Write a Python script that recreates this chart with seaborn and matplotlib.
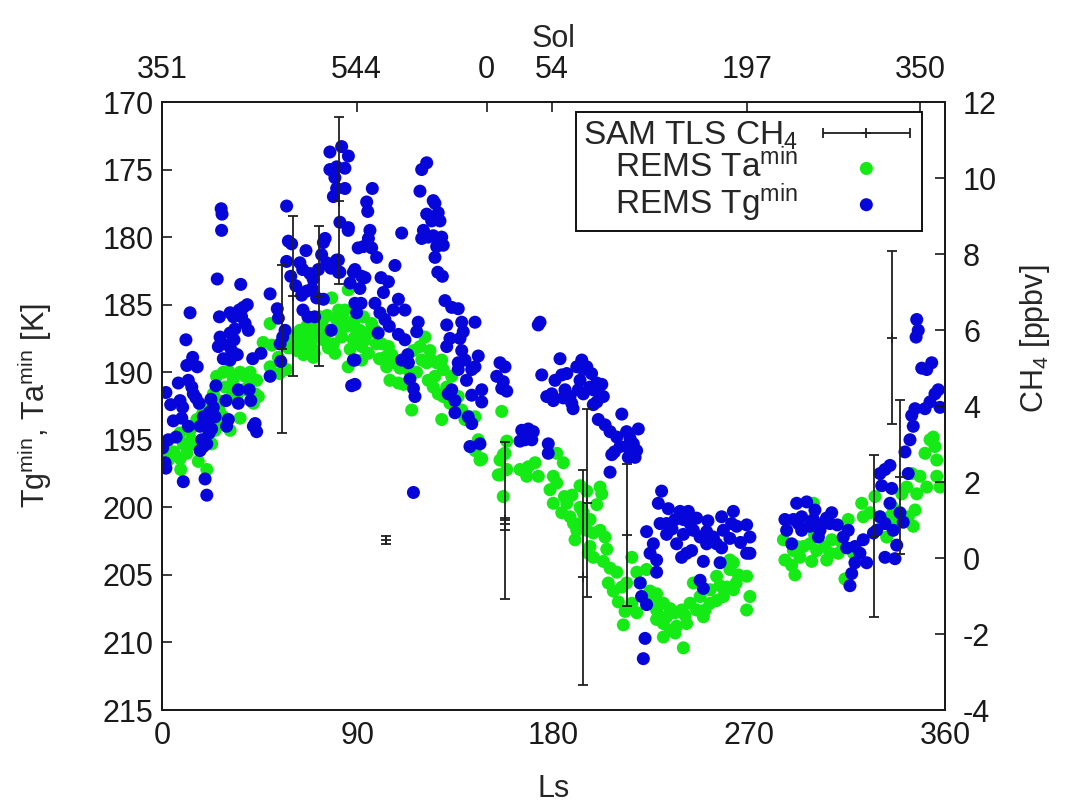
import numpy as np
import matplotlib
matplotlib.use("Agg")
import matplotlib.pyplot as plt
import seaborn as sns
import pandas as pd
from matplotlib.container import ErrorbarContainer
from matplotlib.legend_handler import HandlerErrorbar

# ---------------- data ----------------
# REMS Tg_min (ground temperature minimum), blue
tg_ls = [27.2, 27.6, 27.4, 25.4, 36.2, 12.9, 26.4,
         31.3, 32.8, 35.5, 37.4, 39.2, 36.6, 38.2, 39.7,
         11, 26.7, 31.3, 33.1, 30.5, 32, 34.6, 25.9,
         28.2, 31.3, 41.7, 14.1, 11.4, 16.2,
         7.5, 12.1, 13.7, 14.4, 1.8, 8.3, 9.5, 15.6, 17.1,
         24.8, 35.1, 40.1, 29.4, 35.1, 40.8,
         23.6, 21.7, 19, 17.5, 20.6, 22.8, 24.4, 21.7, 18.3, 19, 17.5, 20.6,
         9.1, 12.1, 30.5, 29.7, 42.8, 43.5, 42,
         2.9, 0.3, 1.4, 1.8, 9.8, 19.8, 20.6,
         49.7, 53, 53.5, 57.3, 58.1, 59.6, 59.2, 56.6, 55.5, 54.3, 54.6, 49.7, 57.3,
         66.2, 63.4, 64.7, 66.5, 64.2, 68, 69.5, 71.9, 74.2, 75, 73.4, 75.7, 77.6,
         80.3, 81.8, 85.6, 88, 90.2, 71.1, 74.2, 64.8, 67.1, 70.2, 77.8, 88, 87.2,
         77.2, 82.6, 85.7, 77.2, 80.3, 84.1, 79.5, 80.3, 84.1, 78.8, 81.8, 85.7, 81.1, 81.1,
         96.7, 94.1, 94.6, 95.6, 94.9, 92.6, 96.4, 98.7, 88.7, 91.8, 93.3, 91, 91.5, 88.7,
         110.2, 107.1, 100.7, 104.1, 101.8, 108.7, 111.7, 97.9, 100.2, 102.5, 106.3,
         99.4, 108.7, 111.7, 110.2, 113.3, 114, 115.6, 116.3,
         121.7, 119.4, 118.6, 124.7, 125.5, 121.7, 124, 127, 127.8, 120.2, 119.4,
         122.4, 124.7, 128.6, 129.3, 126.3, 125.5, 126.8, 128.9, 130.1, 133.2, 136.2,
         117.8, 117.1, 130.9, 137.8, 143.9, 132.4, 137, 130.9, 137.8, 139.3, 136.2,
         145.4, 143.9, 142.4, 136.2,
         133.2, 134.7, 134.7, 131.6, 142.4, 147, 147, 140.8, 142.4, 141.6, 146.2,
         155.4, 157.7, 153.9, 156.9, 158.5, 156.2,
         173.8, 173, 174.6, 176.9, 179.2,
         165.4, 168.4, 170.7, 166.9, 170, 164.6, 177.6, 177.6,
         88.7, 88.7, 115.6,
         183, 180.7, 179.9, 183.8, 186.1, 185.3, 187.6, 188.4, 190.7, 193, 193.7,
         195.3, 192.2, 191.4, 193.7, 196.8, 198.3, 199.9, 202.2, 201.4, 202.9, 198.3, 199.9,
         200.6, 203.7, 206, 211.4, 209.1, 213.6, 215.2, 219, 210.6, 213.6, 216.7,
         218.2, 214.4, 206.8, 206, 217.5,
         229.7, 228.2, 232.8, 238.2, 242, 245.8, 229, 232, 235.9, 239.7, 242.8, 232,
         236.6, 239.7, 244.3, 247.4, 222.8, 225.9, 224.4, 227.4, 227.4, 238.9, 241.2,
         243.5, 250.4, 253.5, 257.3, 262.7, 261.9, 258.1, 264.2, 268.8, 270.3, 255,
         257.3, 261.1, 250.4, 256.6, 248.9, 268.8, 270.3, 247.4, 248.9, 219.8, 220.5,
         222.8, 222.1, 221.3,
         286.4, 287.2, 289.5, 291.8, 296.4, 290.3, 294.1, 294.1, 297.9, 300.2, 301.8,
         299.5, 304.1, 307.9, 307.1, 302.5, 313.2, 315.5, 314.8, 318.6, 320.9, 322.4,
         318.6, 317.1, 316.3, 324, 327.1, 328.6, 332.4, 330.1, 334.7, 330.9, 330.1,
         332.4, 334.7, 335.5, 336.2, 337.8, 332.4, 337, 339.3, 340.8, 341.6, 343.9,
         345.4, 344.7, 346.2, 350.8, 353.1, 355.4, 356.9, 357.7, 349.3, 351.6, 353.9,
         347, 347.7, 346.7, 343.1,
         5.2, 4.0, 6.5, 22.5, 33.5, 45.5, 61.5, 69.0, 86.5, 89.5, 104.5, 113.0,
         138.5, 140.0, 184.5, 189.0, 197.5, 208.0, 234.5, 251.0, 266.0, 292.5, 305.5, 310.5]
tg_min = [177.9, 178.3, 179.5, 183.1, 183.5, 185.6, 185.9,
          185.6, 185.9, 185.4, 185.2, 185.0, 185.9, 186.4, 186.9,
          187.6, 187.4, 187.1, 187.6, 188.0, 188.4, 188.7, 188.1,
          189.0, 189.1, 189.0, 188.9, 189.5, 189.6,
          190.8, 190.6, 191.1, 191.6, 191.5, 192.1, 192.6, 191.9, 192.3,
          191.0, 191.3, 191.3, 192.1, 192.3, 192.1,
          192.6, 193.0, 193.3, 194.0, 193.8, 194.2, 193.3, 194.5, 195.0, 195.5, 195.8, 195.3,
          193.4, 194.0, 193.5, 194.0, 193.8, 194.4, 194.0,
          195.0, 195.6, 196.7, 197.1, 198.1, 197.9, 199.1,
          184.2, 185.3, 186.0, 181.8, 180.3, 180.5, 182.9, 186.9, 187.4, 187.9, 189.2, 190.3, 177.7,
          181.0, 181.9, 182.4, 184.0, 184.3, 182.7, 183.1, 182.4, 180.4, 180.1, 181.3, 181.9, 182.3,
          181.7, 182.6, 179.5, 182.6, 180.8, 184.5, 184.6, 185.4, 185.9, 185.9, 186.9, 189.1, 191.0,
          173.7, 173.3, 174.0, 175.0, 174.8, 174.9, 175.6, 176.4, 176.4, 177.0, 178.9, 179.3, 181.7, 182.6,
          176.4, 177.4, 178.1, 179.5, 180.1, 180.7, 180.8, 181.5, 182.4, 182.9, 183.0, 183.8, 184.9, 184.9,
          179.7, 182.1, 183.0, 183.3, 184.1, 184.6, 185.4, 184.9, 185.6, 186.1, 185.4,
          187.1, 187.2, 187.6, 189.1, 189.3, 190.5, 191.2, 191.8,
          174.5, 175.0, 176.6, 177.3, 177.5, 178.3, 178.8, 178.2, 178.8, 179.5, 180.1,
          180.0, 179.9, 180.0, 180.6, 180.7, 181.5, 182.6, 182.9, 184.7, 185.2, 185.3,
          186.3, 187.0, 186.5, 186.3, 186.3, 187.5, 187.5, 188.1, 188.4, 189.1, 189.3,
          188.8, 189.6, 189.8, 189.8,
          191.3, 192.1, 193.0, 191.6, 191.7, 191.3, 192.2, 193.3, 193.8, 195.5, 195.3,
          189.3, 189.6, 190.3, 190.7, 191.4, 191.2,
          186.3, 186.5, 190.2, 191.8, 191.6,
          194.3, 194.2, 194.4, 195.0, 195.0, 195.1, 195.3, 196.0,
          189.1, 190.9, 198.9,
          189.0, 190.6, 192.1, 190.2, 190.1, 191.3, 191.8, 192.3, 189.6, 189.1, 189.8,
          189.6, 190.6, 191.3, 191.6, 191.1, 191.3, 190.8, 190.9, 191.8, 191.8, 192.4, 192.2,
          193.5, 193.9, 194.4, 193.1, 194.8, 194.4, 194.9, 194.2, 195.5, 195.5, 195.3,
          195.8, 196.3, 196.1, 197.4, 196.3,
          198.8, 199.7, 200.1, 200.3, 200.3, 200.8, 201.2, 201.2, 200.9, 200.9, 201.2, 202.0,
          202.7, 202.0, 201.7, 202.2, 201.8, 202.7, 203.4, 203.9, 204.8, 203.7, 203.4,
          203.2, 201.8, 202.2, 200.7, 200.3, 201.2, 201.7, 201.4, 201.3, 202.2, 202.7,
          203.0, 202.3, 202.7, 204.1, 204.0, 203.4, 203.4, 205.4, 206.0, 205.6, 206.6,
          207.2, 209.7, 211.2,
          200.9, 201.7, 202.7, 199.7, 199.6, 200.9, 200.7, 201.7, 201.4, 200.2, 202.2,
          200.9, 201.2, 200.4, 201.2, 201.7, 202.2, 201.7, 203.0, 202.9, 203.4, 202.4,
          204.1, 204.9, 205.8, 204.1, 201.9, 201.7, 201.2, 200.7, 199.7, 198.4, 197.5,
          197.2, 196.9, 198.6, 201.7, 202.8, 203.7, 203.8, 200.4, 201.1, 195.9, 195.0,
          194.0, 193.2, 192.7, 192.7, 192.2, 191.6, 191.3, 192.6, 189.7, 189.8, 189.3,
          186.1, 186.9, 187.4, 197.5,
          193.6, 192.4, 194.8, 192.0, 186.8, 188.6, 183.6, 183.8, 183.4, 185.6, 186.6, 188.7,
          187.0, 190.6, 191.9, 192.7, 190.1, 195.9, 201.6, 201.0, 202.6, 201.2, 200.8, 201.3]

# REMS Ta_min (air temperature minimum), green
ta_ls = [8.3, 12.9, 16, 18.3, 19, 14.4, 9.8, 11.4, 8.3, 16.7, 20.6, 8.6, 2.9, 0.6, 2.9, 22.8, 24.4, 25.9,
         25.1, 28.2, 30.5, 32.8, 35.9, 38.2, 40.5, 43.5, 42.8, 42, 23.6, 25.9, 29, 32, 34.3, 37.4,
         39.7, 35.9, 31.3, 29.7, 26.3, 28.2, 44.3,
         49.7, 49.7, 53.5, 54, 58.1, 59.6, 57.3, 63.4, 65, 68, 65, 69.6, 71.1, 75.7, 78, 81.8,
         85.6, 84.1, 88, 85.6, 91, 75.9, 81.2,
         60.4, 66.5, 71.1, 74.2, 78.8, 82.6, 84.9, 89.5, 72.6, 80.3, 68.8, 76.5, 88, 63.4,
         88.7, 92.6, 96.4, 91, 94.9, 88.7, 93.3, 97.9, 91.8, 94.9, 91.8, 101, 104.1, 102.5,
         105.6, 103.3, 107.1, 109.4, 104.8, 108.7, 113.2, 115.6, 118.6, 120.9, 123.2, 119.4,
         121.7, 124, 126.3, 128.6, 129.3, 125.5, 122.4, 124.7, 127, 129.3, 130.9, 133.2,
         132.4, 134.7, 136.2, 137.8, 139.3, 141.6, 143.9, 114.8, 128.6,
         145.4, 147, 143.9, 146.2, 155.4, 158.5, 157.7, 154.6, 158.5, 164.6, 168.4, 171.5,
         173, 167.7, 156.2, 156.9, 155.4, 156.9,
         181.5, 184.5, 179.9, 181.5, 178.4, 179.9, 186.1, 183.8, 187.6, 189.2, 192.2, 195.3,
         201.4, 202.2, 199.9, 192.2, 193.7, 196.8, 190.7, 192.2, 189.9, 195.3, 198.3, 201.4,
         203.7, 196.8, 198.3, 196, 202.9, 206, 209.1, 205.2, 207.5, 211.4, 213.6, 216,
         218.3, 222.8, 209.8, 212.9, 212.1, 216, 218.3, 224.4, 227.4, 224.4, 227.4, 230.5,
         233.6, 235.9, 238.9, 227.4, 230.5, 233.6, 236.6, 230.5, 235.9, 239.7, 241.2, 242.8,
         245.8, 248.9, 244.3, 247.4, 252, 255, 258.1, 259.6, 262.7, 255, 261.1, 262.7, 265,
         268.8, 270.3, 268.8, 261.1, 252, 249.7,
         285.7, 286.4, 289.5, 291, 291.8, 294.9, 299.5, 297.9, 301, 304.8, 307.9, 307.1,
         305.6, 298.7, 310.9, 315.5, 314, 321.7, 322.4, 325.5, 327.8, 330.1, 331.6, 333.2,
         334.7, 337.8, 340.1, 342.4, 344.7, 347, 348.5, 346.2, 343.1, 345.4, 351.6, 350.8,
         353.1, 355.4, 356.2, 356.2, 357.7, 354.6, 290.3, 293.3,
         62.0, 67.5, 70.0, 73.5, 77.0, 79.5, 83.0, 86.5, 98.5, 100.0, 111.0, 117.0,
         5.5, 13.5, 21.5, 46.5, 50.5, 185.0, 188.5, 204.5, 220.0, 226.0, 232.0, 240.5,
         256.5, 264.0, 300.0, 312.5, 318.0, 336.0]
ta_min = [194.5, 194.3, 193.5, 193.2, 192.8, 195.3, 195.3, 196.0, 196.4, 196.6, 197.2, 197.2, 195.8, 196.0, 196.5, 195.3, 194.3, 193.5,
          190.3, 190.0, 189.9, 190.5, 190.0, 190.3, 190.0, 190.6, 191.6, 192.3, 191.6, 192.1, 191.1, 191.3, 191.8, 191.3,
          191.1, 193.4, 194.3, 193.8, 192.8, 193.3, 191.8,
          186.4, 189.6, 188.9, 190.1, 188.2, 187.6, 189.8, 186.9, 187.6, 187.1, 188.7, 188.9, 187.4, 187.1, 184.5, 186.9,
          183.9, 185.4, 186.4, 189.6, 187.4, 185.8, 185.4,
          187.4, 186.6, 186.6, 187.6, 187.9, 187.4, 186.6, 186.9, 185.9, 186.1, 188.1, 188.2, 187.6, 187.9,
          186.1, 185.9, 186.4, 186.9, 187.1, 187.4, 187.6, 186.9, 188.1, 188.6, 189.1, 187.9, 188.1, 188.9,
          188.7, 189.6, 189.3, 189.7, 190.6, 190.8, 189.8, 188.4, 188.1, 187.4, 188.4, 189.1,
          189.3, 189.1, 189.3, 189.1, 189.8, 190.3, 190.6, 191.1, 191.6, 191.8, 191.1, 190.3,
          192.3, 192.6, 191.8, 192.8, 193.5, 193.3, 193.3, 192.8, 193.5,
          195.0, 196.4, 195.8, 196.5, 196.5, 195.1, 196.0, 197.6, 197.2, 197.2, 197.0, 196.7,
          197.7, 197.7, 192.9, 196.1, 197.6, 199.2,
          196.0, 196.7, 197.7, 198.2, 198.7, 199.7, 199.7, 200.4, 200.7, 201.2, 198.4, 198.8,
          198.5, 199.0, 199.8, 200.0, 200.4, 200.9, 201.7, 201.2, 202.4, 201.7, 201.9, 201.7,
          202.2, 202.9, 203.7, 203.4, 204.0, 204.5, 204.8, 205.6, 206.2, 205.9, 205.6, 203.7,
          204.8, 204.6, 207.0, 207.7, 208.7, 207.1, 207.8, 206.2, 206.4, 207.1, 207.6, 207.1,
          207.5, 207.8, 207.6, 208.3, 208.6, 209.1, 208.8, 209.6, 209.3, 210.4, 208.6, 207.1,
          207.6, 208.1, 205.6, 206.6, 206.1, 206.9, 206.6, 205.9, 206.1, 205.1, 204.6, 204.1, 205.0,
          205.1, 206.6, 207.6, 203.9, 207.1, 207.6,
          202.4, 203.9, 204.3, 205.0, 202.9, 202.9, 199.7, 202.7, 203.2, 202.9, 202.4, 203.4,
          203.9, 204.0, 203.4, 200.9, 205.3, 199.7, 200.7, 200.4, 199.2, 200.7, 201.2, 202.2,
          200.7, 201.2, 199.0, 198.5, 197.5, 199.0, 197.7, 200.2, 200.7, 201.4, 198.5, 196.0,
          195.0, 195.5, 196.5, 197.7, 198.5, 194.8, 203.2, 203.7,
          188.4, 187.9, 188.6, 186.3, 186.9, 188.6, 185.9, 188.3, 187.9, 189.0, 190.9, 190.0,
          195.9, 195.0, 194.6, 187.8, 188.0, 199.2, 199.1, 203.1, 205.6, 207.0, 208.1, 208.0,
          205.8, 205.6, 202.0, 202.6, 203.4, 200.0]

# SAM TLS CH4 measurements [ppbv] with 1-sigma errors
ch4_ls = [55.3, 60.1, 72.0, 81.2, 102.8, 157.7, 157.9, 193.7, 195.3, 213.9, 327.4, 335.5, 339.3]
ch4_ppbv = [5.5, 6.9, 6.9, 9.4, 0.47, 0.99, 0.90, -0.51, 1.44, 0.60, 0.57, 5.80, 2.14]
ch4_err = [2.2, 2.1, 1.84, 2.2, 0.1, 2.07, 0.16, 2.83, 2.47, 1.87, 2.13, 2.27, 2.03]

# top axis: mission sols at given Ls
sol_tick_ls = [0, 89.5, 149.3, 179.2, 268.8, 348.5]
sol_labels = ["351", "544", "0", "54", "197", "350"]

ls_ticks = [0, 90, 180, 270, 360]
t_ticks = list(range(170, 216, 5))
ch4_ticks = list(range(-4, 13, 2))

# ---------------- style ----------------
sns.set_style("white")
plt.rcParams["font.family"] = ["Liberation Sans", "DejaVu Sans"]
plt.rcParams["mathtext.fontset"] = "custom"
plt.rcParams["mathtext.rm"] = "Liberation Sans"
plt.rcParams["mathtext.it"] = "Liberation Sans:italic"
plt.rcParams["mathtext.bf"] = "Liberation Sans:bold"
plt.rcParams["axes.unicode_minus"] = False

FS = 22
LFS = 24
GREEN = "#14ea14"
BLUE = "#0606da"
SPINE = "#1a1a1a"
DOT = 88

fig = plt.figure(figsize=(10.77, 8.07), dpi=100)
ax = fig.add_axes([162 / 1077, 1 - 710 / 807, (945 - 162) / 1077, (710 - 102) / 807])

df_ta = pd.DataFrame({"Ls": ta_ls, "T": ta_min})
df_tg = pd.DataFrame({"Ls": tg_ls, "T": tg_min})

sns.scatterplot(data=df_ta, x="Ls", y="T", ax=ax, color=GREEN, s=DOT,
                linewidth=0, edgecolor="none", label="REMS Ta$^{\\mathrm{min}}$", zorder=2)
sns.scatterplot(data=df_tg, x="Ls", y="T", ax=ax, color=BLUE, s=DOT,
                linewidth=0, edgecolor="none", label="REMS Tg$^{\\mathrm{min}}$", zorder=3)
if ax.get_legend() is not None:
    ax.get_legend().remove()

ax.set_xlim(0, 360)
ax.set_ylim(215, 170)
ax.set_xticks(ls_ticks)
ax.set_yticks(t_ticks)
ax.set_xlabel("Ls", fontsize=FS)
ax.set_ylabel("Tg$^{\\mathrm{min}}$, Ta$^{\\mathrm{min}}$ [K]", fontsize=FS)
ax.xaxis.set_label_coords(0.5, -0.105)
ax.yaxis.set_label_coords(-0.138, 0.5)
ax.tick_params(axis="both", which="major", direction="in", length=7, width=1.2,
               labelsize=FS, colors=SPINE, top=False, right=False)
ax.tick_params(axis="x", pad=8)
ax.tick_params(axis="y", pad=6)

# right axis: CH4
ax2 = ax.twinx()
ax2.set_ylim(-4, 12)
ax2.set_yticks(ch4_ticks)
ax2.errorbar(ch4_ls, ch4_ppbv, yerr=ch4_err, fmt="+", color="#202020",
             ecolor="#202020", elinewidth=1.3, capsize=3.5, capthick=1.3,
             markersize=7, markeredgewidth=1.3, zorder=5)
eb_proxy = ax2.errorbar([np.nan], [np.nan], xerr=[1.0], fmt="+", color="#202020",
                        ecolor="#202020", elinewidth=1.3, capsize=3.5, capthick=1.3,
                        markersize=7, markeredgewidth=1.3)
ax2.set_ylabel("CH$_4$ [ppbv]", fontsize=FS)
ax2.yaxis.set_label_coords(1.093, 0.61)
ax2.tick_params(axis="y", direction="in", length=7, width=1.2, labelsize=FS,
                colors=SPINE, pad=13)

# top axis: Sol
sec = ax.secondary_xaxis("top")
sec.set_xticks(sol_tick_ls, labels=sol_labels)
sec.tick_params(direction="in", length=7, width=1.2, labelsize=FS, colors=SPINE, pad=12)
sec.set_xlabel("Sol", fontsize=FS, labelpad=6)

for a in (ax, ax2):
    for sp in a.spines.values():
        sp.set_color(SPINE)
        sp.set_linewidth(1.4)
for sp in sec.spines.values():
    sp.set_color(SPINE)
    sp.set_linewidth(1.4)

# legend
h, l = ax.get_legend_handles_labels()
handles = [eb_proxy] + h
labels = ["SAM TLS CH$_4$"] + l
leg = ax2.legend(handles, labels, loc="upper right",
                 bbox_to_anchor=(922 / 1077, 1 - 112 / 807), bbox_transform=fig.transFigure,
                 borderaxespad=0, markerfirst=False, frameon=True, fancybox=False,
                 edgecolor="#111111", framealpha=1, fontsize=LFS,
                 handlelength=2.9, handletextpad=0.6, labelspacing=-0.1, borderpad=0.22,
                 handler_map={ErrorbarContainer: HandlerErrorbar(xerr_size=1.3)})
leg.get_frame().set_linewidth(1.4)
leg.set_zorder(10)

fig.savefig("out.png", dpi=100)
